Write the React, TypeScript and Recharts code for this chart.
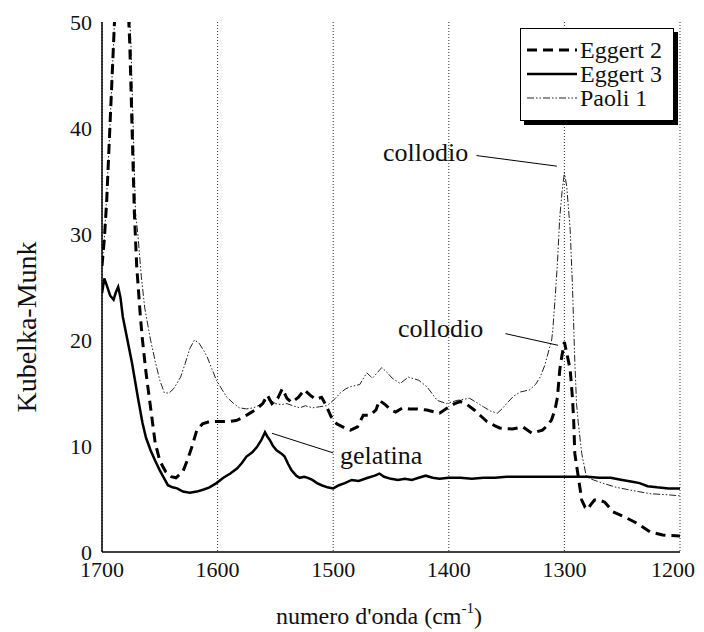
import React from "react";
import {
  LineChart,
  Line,
  XAxis,
  YAxis,
  CartesianGrid,
  ReferenceLine,
  ReferenceDot,
} from "recharts";

const FONT = '"Liberation Serif", "Times New Roman", serif';

const xTicks = [1700, 1600, 1500, 1400, 1300, 1200];
const yTicks = [0, 10, 20, 30, 40, 50];
const innerTicks = [10, 20, 30, 40];

// Eggert 2 (dashed)
const eggert2Wn = [
  1700, 1698, 1696, 1694, 1692, 1690, 1688, 1683, 1678, 1676, 1674, 1672, 1670, 1667, 1665,
  1662, 1660, 1657, 1654, 1650, 1645, 1640, 1636, 1630, 1626, 1622, 1618, 1613, 1607, 1598,
  1590, 1584, 1578, 1572, 1566, 1561, 1557, 1553, 1548, 1544, 1540, 1536, 1530, 1525, 1520,
  1515, 1510, 1506, 1502, 1497, 1490, 1485, 1479, 1474, 1468, 1463, 1460, 1455, 1450, 1446,
  1440, 1434, 1428, 1419, 1412, 1408, 1401, 1395, 1390, 1384, 1378, 1373, 1367, 1360, 1356,
  1345, 1336, 1328, 1319, 1314, 1311, 1308, 1306, 1304, 1302, 1300, 1298, 1295, 1293, 1292,
  1291, 1288, 1285, 1282, 1280, 1277, 1274, 1270, 1265, 1258, 1252, 1246, 1237, 1226, 1215,
  1200,
];
const eggert2Km = [
  27.0, 29.5, 33, 38, 43, 48, 53, 56, 53, 48, 40, 32, 27, 22.5, 20,
  17, 15.3, 12.8, 10.3, 8.6, 7.6, 7.1, 7.0, 7.6, 8.7, 10.0, 11.5, 12.1, 12.3, 12.3,
  12.3, 12.4, 12.7, 13.1, 13.5, 14.0, 14.8, 14.0, 14.5, 15.4, 14.5, 14.1, 14.6, 15.3, 14.8,
  14.4, 14.6, 13.8, 12.8, 12.1, 11.7, 11.5, 11.8, 12.9, 12.9, 13.4, 14.3, 13.9, 13.4, 13.2,
  13.6, 13.5, 13.5, 13.4, 13.2, 13.1, 13.6, 14.0, 14.2, 13.9, 13.4, 12.9, 12.3, 11.9, 11.7,
  11.6, 11.8, 11.2, 11.5, 12.0, 12.5, 13.5, 14.6, 17.2, 18.6, 19.8, 18.8, 17.2, 14.5, 12.5,
  9.3, 7.1, 4.9, 4.2, 4.0, 4.5, 4.9, 4.9, 4.7, 3.8, 3.5, 3.2, 2.7, 1.9, 1.6,
  1.5,
];

// Eggert 3 (solid)
const eggert3Wn = [
  1700, 1698, 1696, 1693, 1690, 1688, 1686, 1684, 1682, 1678, 1674, 1669, 1665, 1662, 1658,
  1654, 1650, 1646, 1643, 1639, 1635, 1630, 1624, 1618, 1612, 1607, 1601, 1595, 1589, 1583,
  1579, 1575, 1570, 1566, 1562, 1559, 1557, 1555, 1552, 1549, 1545, 1542, 1539, 1536, 1532,
  1529, 1525, 1522, 1518, 1514, 1510, 1505, 1500, 1495, 1490, 1484, 1478, 1470, 1464, 1460,
  1456, 1450, 1444, 1438, 1432, 1426, 1420, 1414, 1408, 1400, 1390, 1380, 1370, 1360, 1350,
  1340, 1330, 1320, 1310, 1300, 1290, 1280, 1270, 1260, 1250, 1240, 1235, 1228, 1220, 1210,
  1200,
];
const eggert3Km = [
  24.4, 25.8, 25.2, 24.2, 23.8, 24.5, 25.0, 24.0, 22.2, 20.0, 17.8, 14.6, 12.2, 10.8, 9.6,
  8.6, 7.7, 6.9, 6.3, 6.1, 6.0, 5.7, 5.6, 5.7, 5.9, 6.1, 6.5, 7.0, 7.4, 7.9,
  8.4, 9.0, 9.4, 9.9, 10.6, 11.3, 10.9, 10.6, 10.0, 9.6, 9.3, 9.0, 8.3, 7.7, 7.2,
  7.0, 7.1, 7.0, 6.8, 6.5, 6.3, 6.1, 6.0, 6.3, 6.5, 6.8, 6.7, 7.0, 7.2, 7.4,
  7.1, 6.9, 6.8, 6.9, 6.8, 7.0, 7.2, 7.0, 6.9, 7.0, 7.0, 6.9, 7.0, 7.0, 7.1,
  7.1, 7.1, 7.1, 7.1, 7.1, 7.1, 7.1, 7.0, 7.0, 6.8, 6.6, 6.5, 6.2, 6.1, 6.0,
  6.0,
];

// Paoli 1 (thin dash-dot-dot)
const paoli1Wn = [
  1700, 1698, 1696, 1694, 1692, 1690, 1688, 1683, 1677, 1675, 1673, 1671, 1669, 1666, 1663,
  1658, 1654, 1650, 1646, 1642, 1638, 1632, 1628, 1624, 1620, 1616, 1612, 1609, 1605, 1601,
  1596, 1592, 1586, 1581, 1575, 1569, 1563, 1559, 1555, 1550, 1545, 1540, 1535, 1529, 1524,
  1518, 1512, 1506, 1503, 1498, 1494, 1489, 1485, 1477, 1471, 1466, 1462, 1458, 1453, 1449,
  1442, 1435, 1426, 1419, 1410, 1402, 1393, 1382, 1376, 1370, 1364, 1358, 1354, 1350, 1344,
  1338, 1330, 1325, 1321, 1317, 1315, 1311, 1310, 1308, 1306, 1304, 1302, 1300, 1298, 1295,
  1293, 1291, 1289.5, 1288, 1285, 1281, 1275, 1267, 1255, 1241, 1226, 1211, 1200,
];
const paoli1Km = [
  27.0, 29.5, 33.5, 38, 43, 48, 53, 56, 53, 48, 40, 32, 30, 26, 23,
  20, 18, 16.2, 15.0, 15.0, 15.4, 16.5, 17.8, 19.2, 20.0, 19.7, 19.0, 18.4, 17.3, 16.2,
  15.3, 14.6, 14.0, 13.6, 13.5, 13.6, 13.9, 14.2, 14.4, 14.0, 13.9, 14.0, 13.8, 13.6, 13.8,
  13.6, 13.7, 13.8, 14.0, 14.5, 15.0, 15.4, 15.6, 15.8, 16.9, 16.4, 16.9, 17.4, 16.9, 16.4,
  15.9, 16.5, 16.2, 15.6, 14.3, 14.0, 14.3, 14.5, 14.1, 13.7, 13.3, 13.1, 13.5, 14.0, 14.7,
  15.1, 15.3, 15.8, 16.5, 17.6, 18.4, 20.0, 21.0, 24, 27.3, 31.6, 34.0, 35.8, 34.5, 30.4,
  25, 18, 14, 12.2, 9.3, 7.1, 6.8, 6.5, 6.1, 5.8, 5.5, 5.4, 5.3,
];

const zip = (xs: number[], ys: number[]) => xs.map((x, i) => ({ x, y: ys[i] }));
const eggert2 = zip(eggert2Wn, eggert2Km);
const eggert3 = zip(eggert3Wn, eggert3Km);
const paoli1 = zip(paoli1Wn, paoli1Km);

const STYLE = {
  eggert2: { stroke: "#000", width: 3, dash: "10 6" },
  eggert3: { stroke: "#000", width: 2.5, dash: undefined as string | undefined },
  paoli1: { stroke: "#222", width: 1, dash: "7 2 1.5 2 1.5 2" },
};

const legendItems = [
  { name: "Eggert 2", key: "eggert2" as const },
  { name: "Eggert 3", key: "eggert3" as const },
  { name: "Paoli 1", key: "paoli1" as const },
];

// legend drawn as an overlay so it doesn't eat into the plot height
function LegendBox() {
  return (
    <div
      style={{
        position: "absolute",
        top: 20,
        left: 512,
        width: 154,
        border: "1px solid #000",
        boxShadow: "4px 4px 0 #000",
        background: "#fff",
        padding: "9px 0 10px 6px",
        fontFamily: FONT,
        fontSize: 24,
        lineHeight: "24px",
        color: "#111",
        boxSizing: "border-box",
      }}
    >
      {legendItems.map((it) => {
        const s = STYLE[it.key];
        return (
          <div key={it.name} style={{ display: "flex", alignItems: "center", height: 24 }}>
            <svg width={52} height={10} style={{ marginRight: 1 }}>
              <line
                x1={0}
                y1={5}
                x2={50}
                y2={5}
                stroke={s.stroke}
                strokeWidth={s.width}
                strokeDasharray={s.dash}
              />
            </svg>
            <span>{it.name}</span>
          </div>
        );
      })}
    </div>
  );
}

// last label nudged left a little so it isn't cut by the page edge
function XTick(props: any) {
  const { x, y, payload } = props;
  const shift = payload.value === 1200 ? -7 : 0;
  return (
    <text
      x={x + shift}
      y={y}
      dy={16}
      textAnchor="middle"
      fontFamily={FONT}
      fontSize={22}
      fill="#111"
    >
      {payload.value}
    </text>
  );
}

function YTitle(props: any) {
  const vb = props.viewBox;
  const x = vb.x + 18;
  const y = vb.y + vb.height / 2 + 40;
  return (
    <text
      x={x}
      y={y}
      transform={`rotate(-90 ${x} ${y})`}
      textAnchor="middle"
      dominantBaseline="central"
      fontFamily={FONT}
      fontSize={28}
      fill="#111"
    >
      Kubelka-Munk
    </text>
  );
}

function XTitle(props: any) {
  const vb = props.viewBox;
  const x = vb.x + vb.width / 2 - 12;
  const y = vb.y + 72;
  return (
    <text x={x} y={y} textAnchor="middle" fontFamily={FONT} fontSize={24} fill="#111">
      numero d'onda (cm
      <tspan fontSize={15} dy={-11}>-1</tspan>
      <tspan dy={11}>)</tspan>
    </text>
  );
}

const tickStyle = { fontFamily: FONT, fontSize: 22, fill: "#111" };
const noteStyle = { fontFamily: FONT, fontSize: 26, fill: "#111" };

export default function App() {
  return (
    <div style={{ width: 688, height: 624, position: "relative", fontFamily: FONT }}>
      <LineChart width={688} height={624} margin={{ top: 14, right: 16, left: 0, bottom: 0 }}>
        <CartesianGrid horizontal={false} stroke="#333" strokeDasharray="1 2" />
        <XAxis
          dataKey="x"
          type="number"
          domain={[1200, 1700]}
          reversed
          ticks={xTicks}
          allowDataOverflow
          height={80}
          tick={<XTick />}
          tickLine={false}
          tickSize={0}
          tickMargin={9}
          axisLine={{ stroke: "#000", strokeWidth: 1.5 }}
          label={<XTitle />}
        />
        <XAxis
          xAxisId="top"
          orientation="top"
          type="number"
          domain={[1200, 1700]}
          reversed
          height={0}
          tick={false}
          tickLine={false}
          axisLine={{ stroke: "#000", strokeWidth: 1.5 }}
        />
        <YAxis
          type="number"
          domain={[0, 50]}
          ticks={yTicks}
          allowDataOverflow
          width={94}
          tick={tickStyle}
          tickLine={false}
          tickSize={0}
          tickMargin={10}
          axisLine={{ stroke: "#000", strokeWidth: 1.5 }}
          label={<YTitle />}
        />
        <YAxis
          yAxisId="leftTicks"
          orientation="left"
          mirror
          type="number"
          domain={[0, 50]}
          ticks={innerTicks}
          width={0}
          tick={false}
          tickSize={8}
          tickLine={{ stroke: "#000", strokeWidth: 1.5 }}
          axisLine={false}
        />
        <YAxis
          yAxisId="right"
          orientation="right"
          mirror
          type="number"
          domain={[0, 50]}
          ticks={innerTicks}
          width={0}
          tick={false}
          tickSize={8}
          tickLine={{ stroke: "#000", strokeWidth: 1.5 }}
          axisLine={{ stroke: "#000", strokeWidth: 1.5 }}
        />
        <Line
          data={paoli1}
          dataKey="y"
          type="linear"
          stroke={STYLE.paoli1.stroke}
          strokeWidth={STYLE.paoli1.width}
          strokeDasharray={STYLE.paoli1.dash}
          dot={false}
          isAnimationActive={false}
        />
        <Line
          data={eggert3}
          dataKey="y"
          type="linear"
          stroke={STYLE.eggert3.stroke}
          strokeWidth={STYLE.eggert3.width}
          dot={false}
          isAnimationActive={false}
        />
        <Line
          data={eggert2}
          dataKey="y"
          type="linear"
          stroke={STYLE.eggert2.stroke}
          strokeWidth={STYLE.eggert2.width}
          strokeDasharray={STYLE.eggert2.dash}
          dot={false}
          isAnimationActive={false}
        />
        <ReferenceLine
          segment={[{ x: 1376, y: 37.4 }, { x: 1306.5, y: 36.4 }]}
          stroke="#000"
          strokeWidth={1}
        />
        <ReferenceLine
          segment={[{ x: 1351, y: 20.6 }, { x: 1305.5, y: 19.5 }]}
          stroke="#000"
          strokeWidth={1}
        />
        <ReferenceLine
          segment={[{ x: 1553, y: 11.2 }, { x: 1500, y: 9.35 }]}
          stroke="#000"
          strokeWidth={1}
        />
        <ReferenceDot
          x={1378}
          y={37.8}
          r={0}
          fill="none"
          stroke="none"
          label={{ value: "collodio", position: "left", offset: 6, style: noteStyle }}
        />
        <ReferenceDot
          x={1365}
          y={21.2}
          r={0}
          fill="none"
          stroke="none"
          label={{ value: "collodio", position: "left", offset: 6, style: noteStyle }}
        />
        <ReferenceDot
          x={1497.5}
          y={9.2}
          r={0}
          fill="none"
          stroke="none"
          label={{ value: "gelatina", position: "right", offset: 4, style: noteStyle }}
        />
      </LineChart>
      <LegendBox />
    </div>
  );
}
